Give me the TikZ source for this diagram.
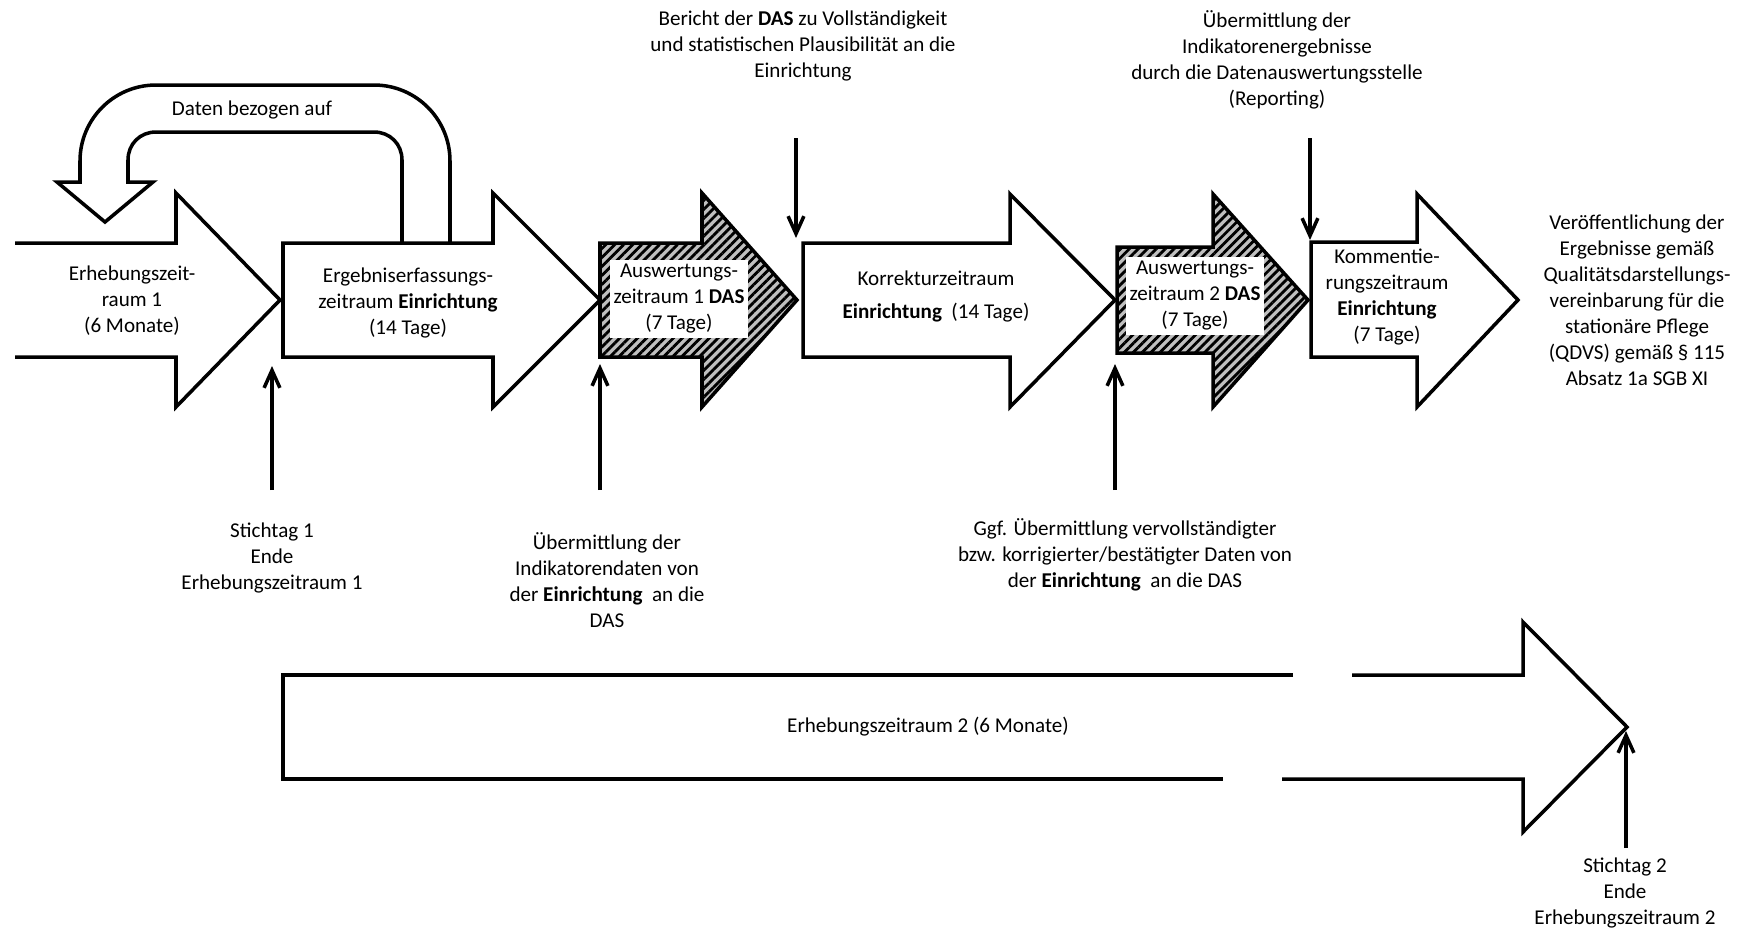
\documentclass[tikz,border=0pt]{standalone}
\usepackage{fontspec}
\setmainfont{Carlito}
\usepackage{tikz}
\usetikzlibrary{arrows.meta, patterns.meta, calc}

\begin{document}
\begin{tikzpicture}[x=0.02cm, y=-0.02cm,
		font=\fontsize{12pt}{14.8pt}\selectfont,
		blockpfeil/.style={draw, line width=2pt, fill=white, line join=miter},
		schraffiert/.style={draw, line width=2pt, line join=miter, preaction={fill=gray!50},
			pattern={Lines[angle=45,distance=3.6pt,line width=1.6pt]}, pattern color=black},
		zeiger/.style={-{Straight Barb[length=10pt,width=9pt,line width=2pt]}, line width=2pt},
		txt/.style={align=center, inner sep=0pt},
		weiss/.style={fill=white, align=center, inner sep=2pt, minimum width=2.75cm, minimum height=1.55cm}]
		\useasboundingbox (0,0) rectangle (1742,931);

		% Rueckbezug
		\path[blockpfeil] (450,243) -- (450,161) .. controls (450,119) and (416,85) .. (374,85)
			-- (156,85) .. controls (114,85) and (80,119) .. (80,161) -- (80,182) -- (57,182)
			-- (105,222) -- (153,182) -- (128,182) -- (128,160) .. controls (128,144) and (140,132) .. (156,132)
			-- (374,132) .. controls (390,132) and (402,144) .. (402,160) -- (402,243);
		\node[txt] (daten) at (252,110) {Daten bezogen auf};

		% obere Zeitleiste
		\path[blockpfeil] (15,243) -- (176,243) -- (176,193) -- (280,300) -- (176,407) -- (176,357) -- (15,357);
		\path[blockpfeil] (283,243) -- (493,243) -- (493,193) -- (600,300) -- (493,407) -- (493,357) -- (283,357) -- cycle;
		\path[schraffiert] (600,243) -- (702,243) -- (702,193) -- (797,300) -- (702,407) -- (702,357) -- (600,357) -- cycle;
		\path[blockpfeil] (803,243) -- (1010,243) -- (1010,194) -- (1115,300) -- (1010,407) -- (1010,357) -- (803,357) -- cycle;
		\path[schraffiert] (1117,247) -- (1213,247) -- (1213,194) -- (1308,300) -- (1213,407) -- (1213,353) -- (1117,353) -- cycle;
		\path[blockpfeil] (1311,242) -- (1417,242) -- (1417,194) -- (1518,300) -- (1417,407) -- (1417,357) -- (1311,357) -- cycle;

		\node[txt] (erhebung1) at (132,301) {Erhebungszeit-\\raum 1\\(6 Monate)};
		\node[txt] (ergebnis) at (408,303) {Ergebniserfassungs-\\zeitraum \textbf{Einrichtung}\\(14 Tage)};
		\node[weiss] (auswertung1) at (679,299) {Auswertungs-\\zeitraum 1 \textbf{DAS}\\(7 Tage)};
		\node[txt] (korrektur) at (936,296) {Korrekturzeitraum\\[4pt]\textbf{Einrichtung}\ \ (14 Tage)};
		\node[weiss] (auswertung2) at (1195,296) {Auswertungs-\\zeitraum 2 \textbf{DAS}\\(7 Tage)};
		\node[txt] (kommentierung) at (1387,297) {Kommentie-\\rungszeitraum\\\textbf{Einrichtung}\\(7 Tage)};
		\node[txt] (veroeffentlichung) at (1637,300) {Ver\"offentlichung der\\Ergebnisse gem\"a\ss\\Qualit\"atsdarstellungs-\\vereinbarung f\"ur die\\station\"are Pflege\\(QDVS) gem\"a\ss{} \S\ 115\\Absatz 1a SGB XI};

		% Meldungen oben
		\node[txt] (bericht) at (803,46) {Bericht der \textbf{DAS} zu Vollst\"andigkeit\\und statistischen Plausibilit\"at an die\\Einrichtung};
		\node[txt] (reporting) at (1277,60) {\"Ubermittlung der\\Indikatorenergebnisse\\durch die Datenauswertungsstelle\\(Reporting)};
		\coordinate (berichtfuss) at (796,138);
		\coordinate (berichtspitze) at (796,238);
		\coordinate (reportingfuss) at (1310,138);
		\coordinate (reportingspitze) at (1310,240);
		\path[draw, zeiger] (berichtfuss) -- (berichtspitze);
		\path[draw, zeiger] (reportingfuss) -- (reportingspitze);

		% Meldungen unten
		\node[txt] (stichtag1) at (272,558) {Stichtag 1\\Ende\\Erhebungszeitraum 1};
		\node[txt] (indikatordaten) at (607,580) {\"Ubermittlung der\\Indikatorendaten von\\der \textbf{Einrichtung}\ \ an die\\DAS};
		\node[txt] (korrigiert) at (1125,555) {Ggf. \"Ubermittlung vervollst\"andigter\\bzw. korrigierter/best\"atigter Daten von\\der \textbf{Einrichtung}\ \ an die DAS};
		\coordinate (stichtag1fuss) at (272,490);
		\coordinate (stichtag1spitze) at (272,366);
		\coordinate (indikatorfuss) at (600,490);
		\coordinate (indikatorspitze) at (600,364);
		\coordinate (korrigiertfuss) at (1115,490);
		\coordinate (korrigiertspitze) at (1115,364);
		\path[draw, zeiger] (stichtag1fuss) -- (stichtag1spitze);
		\path[draw, zeiger] (indikatorfuss) -- (indikatorspitze);
		\path[draw, zeiger] (korrigiertfuss) -- (korrigiertspitze);

		% zweiter Erhebungszeitraum
		\path[fill=white] (283,675) -- (1523,675) -- (1523,622) -- (1627,727) -- (1523,832) -- (1523,779) -- (283,779) -- cycle;
		\path[draw, line width=2pt, line join=miter] (1293,675) -- (283,675) -- (283,779) -- (1223,779);
		\path[draw, line width=2pt, line join=miter] (1282,779) -- (1523,779) -- (1523,832) -- (1627,727) -- (1523,622) -- (1523,675) -- (1352,675);
		\node[txt] (erhebung2) at (928,727) {Erhebungszeitraum 2 (6 Monate)};

		\node[txt] (stichtag2) at (1625,893) {Stichtag 2\\Ende\\Erhebungszeitraum 2};
		\coordinate (stichtag2fuss) at (1626,848);
		\coordinate (stichtag2spitze) at (1626,731);
		\path[draw, zeiger] (stichtag2fuss) -- (stichtag2spitze);
	\end{tikzpicture}
\end{document}
